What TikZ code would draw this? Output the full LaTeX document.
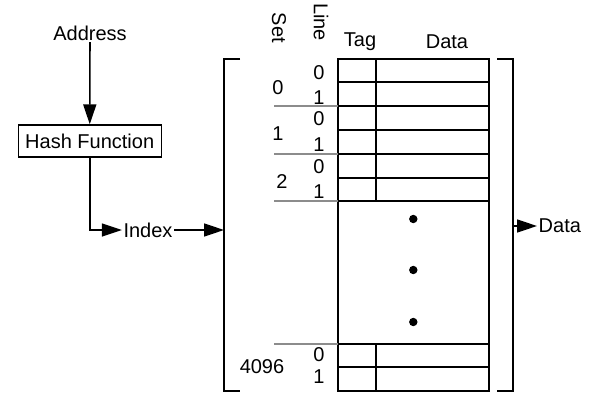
\documentclass[tikz,border=0pt]{standalone}
\usepackage{fontspec}
\setmainfont{Liberation Sans}
\usetikzlibrary{arrows.meta}
\begin{document}
\begin{tikzpicture}[x=1pt,y=-1pt,
  every node/.style={font=\fontsize{20}{23}\selectfont, inner sep=1.5pt},
  ln/.style={line width=1.6pt},
  sep/.style={line width=1.1pt, draw=black!45},
  arr/.style={line width=1.6pt, -{Triangle[length=20pt,width=13pt]}},
  box/.style={draw, line width=1.4pt, minimum width=143pt, minimum height=32pt}]
\useasboundingbox (0,0) rectangle (598,407);
% left part
\node (addr) at (90,33) {Address};
\node[box] (hash) at (89.7,141) {Hash Function};
\node (idx) at (148,230) {Index};
\coordinate (lb) at (224,230);
\draw[arr] (addr) -- (hash);
\draw[arr] (hash.south) |- (idx.west);
\draw[arr] (idx.east) -- (lb);
% brackets
\draw[ln] (240,59) -- (224,59) -- (224,391) -- (240,391);
\draw[ln] (497,59) -- (513,59) -- (513,391) -- (497,391);
% header labels
\node[rotate=-90] (setl) at (279,28) {Set};
\node[rotate=-90] (linel) at (321,22) {Line};
\node (tagl) at (360,42) {Tag};
\node (datal) at (447,42) {Data};
% table
\draw[ln] (338,59) rectangle (489,391);
\foreach \y in {82,106,130,154,178,201,344,367}
  \draw[ln] (338,\y) -- (489,\y);
\draw[ln] (376,59) -- (376,201);
\draw[ln] (376,344) -- (376,391);
\foreach \y in {106,154,201,344}
  \draw[sep] (274,\y) -- (338,\y);
% dots
\foreach \y in {219,270,322}
  \fill (413.3,\y) circle (4.2pt);
% set numbers
\node (s0) at (278,88) {0};
\node (s1) at (278,134) {1};
\node (s2) at (282,182) {2};
\node (s4096) at (262,367) {4096};
% line numbers
\node (l00) at (319,73) {0};
\node (l01) at (319,98) {1};
\node (l10) at (319,119) {0};
\node (l11) at (319,145) {1};
\node (l20) at (319,167) {0};
\node (l21) at (319,192) {1};
\node (l40) at (319,355) {0};
\node (l41) at (319,377) {1};
% data out
\coordinate (rb) at (513,226);
\node[anchor=west] (dout) at (537,226) {Data};
\draw[arr] (rb) -- (dout.west);
\end{tikzpicture}
\end{document}
